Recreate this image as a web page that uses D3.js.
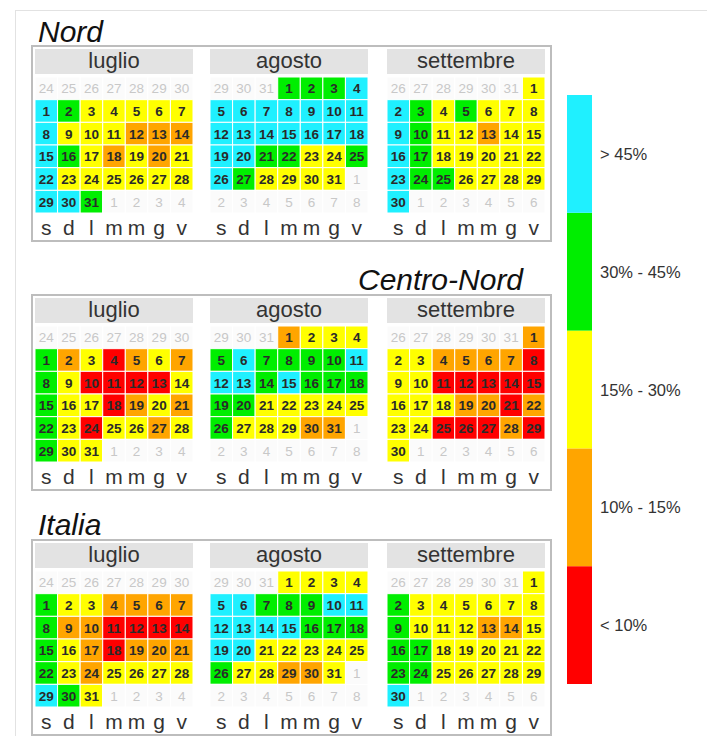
<!DOCTYPE html>
<html>
<head>
<meta charset="utf-8">
<script src="https://cdn.jsdelivr.net/npm/d3@7"></script>
<style>
  body { margin: 0; background: #fff; }
  svg { display: block; font-family: "Liberation Sans", Arial, sans-serif; }
</style>
</head>
<body>
<svg id="chart" width="707" height="736"></svg>
<script>
// calendar data, summer 2017
const year = 2017;
const monthNames = ["luglio", "agosto", "settembre"];
const monthIndex = [6, 7, 8];
const weekdays = ["s", "d", "l", "m", "m", "g", "v"];
const regionNames = ["Nord", "Centro-Nord", "Italia"];
const classLabels = ["< 10%", "10% - 15%", "15% - 30%", "30% - 45%", "> 45%"];
const classColors = ["#ff0000", "#ffa500", "#ffff00", "#00ee00", "#1ff0ff"];

// class of each day: 0 = <10%, 1 = 10-15%, 2 = 15-30%, 3 = 30-45%, 4 = >45%
const nordLuglio = [4,3,2,2,2,2,2, 4,2,2,2,1,1,1, 4,3,2,1,2,1,2, 4,2,2,2,2,2,2, 4,4,3];
const nordAgosto = [3,3,3,4, 4,4,4,4,4,4,4, 4,4,4,4,4,4,4, 4,4,3,3,2,2,3, 4,3,2,2,2,2];
const nordSettembre = [2, 4,3,2,3,2,2,2, 4,3,2,2,1,2,2, 4,3,2,2,2,2,2, 4,3,3,2,2,2,2, 4];

const centroLuglio = [3,1,2,0,1,2,1, 3,2,0,0,0,0,2, 3,2,2,0,1,2,1, 3,2,0,2,2,1,2, 3,2,2];
const centroAgosto = [1,2,2,2, 3,4,3,3,3,3,4, 4,4,3,4,3,3,3, 3,3,2,2,2,2,2, 3,2,2,2,1,1];
const centroSettembre = [1, 2,2,1,1,1,1,0, 2,2,0,0,0,0,0, 2,2,2,1,1,0,1, 2,2,0,0,0,1,0, 2];

const italiaLuglio = [3,2,2,1,1,1,1, 3,1,1,0,0,0,0, 3,2,1,0,1,1,1, 3,2,1,2,2,2,2, 4,3,2];
const italiaAgosto = [2,2,2,2, 4,4,3,3,3,4,4, 4,4,4,4,3,3,3, 4,4,2,2,2,2,2, 3,2,2,1,1,2];
const italiaSettembre = [2, 3,2,2,2,2,2,2, 3,2,2,2,1,1,2, 3,3,2,2,2,2,2, 3,3,2,2,2,2,2, 4];

const regionData = [
    [nordLuglio, nordAgosto, nordSettembre],
    [centroLuglio, centroAgosto, centroSettembre],
    [italiaLuglio, italiaAgosto, italiaSettembre]
];

const svg = d3.select('#chart');

// light outer frame
svg.append('rect')
    .attr('x', 15.5).attr('y', 10.5)
    .attr('width', 700).attr('height', 740)
    .attr('fill', 'none').attr('stroke', '#e2e2e2');

const color = d3.scaleOrdinal().domain(d3.range(5)).range(classColors);

const gridW = 158, gridH = 136;
const monthX = [35, 210, 387];
const gridTop = [77, 326, 571];

const x = d3.scaleBand().domain(d3.range(7)).range([0, gridW]);
const y = d3.scaleBand().domain(d3.range(6)).range([0, gridH]);

const titles = [
    { x: 38, y: 42 },
    { x: 358, y: 290 },
    { x: 38, y: 535 }
];

regionNames.forEach((name, r) => {
    const top = gridTop[r];

    svg.append('text')
        .attr('x', titles[r].x).attr('y', titles[r].y)
        .attr('font-size', 30).attr('font-style', 'italic')
        .attr('fill', '#111')
        .text(name);

    // panel box
    svg.append('rect')
        .attr('x', 32).attr('y', top - 31)
        .attr('width', 519).attr('height', 195)
        .attr('fill', '#fff').attr('stroke', '#bdbdbd').attr('stroke-width', 2);

    monthNames.forEach((mName, m) => {
        const g = svg.append('g').attr('transform', `translate(${monthX[m]},${top})`);
        const values = regionData[r][m];
        const first = new Date(year, monthIndex[m], 1);
        const start = d3.timeSaturday.floor(d3.timeDay.offset(first, -1));
        const days = d3.timeDay.range(start, d3.timeDay.offset(start, 42));
        const inMonth = d => d.getMonth() === monthIndex[m];

        g.append('rect')
            .attr('x', 0).attr('y', -28)
            .attr('width', gridW).attr('height', 25)
            .attr('fill', '#e3e3e3');
        g.append('text')
            .attr('x', gridW / 2).attr('y', -9)
            .attr('text-anchor', 'middle')
            .attr('font-size', 22).attr('fill', '#333')
            .text(mName);

        const cell = g.selectAll('.day')
            .data(days)
            .join('g')
            .attr('class', 'day')
            .attr('transform', (d, i) => `translate(${x((d.getDay() + 1) % 7)},${y(Math.floor(i / 7))})`);

        cell.append('rect')
            .attr('width', x.bandwidth()).attr('height', y.bandwidth())
            .attr('fill', d => inMonth(d) ? color(values[d.getDate() - 1]) : '#fbfbfb')
            .attr('stroke', '#fff').attr('stroke-width', 1);

        cell.append('text')
            .attr('x', x.bandwidth() / 2).attr('y', y.bandwidth() / 2 + 5)
            .attr('text-anchor', 'middle')
            .attr('font-size', 13.5)
            .attr('font-weight', d => inMonth(d) ? 'bold' : 'normal')
            .attr('fill', d => inMonth(d) ? '#2a2a2a' : '#c8c8c8')
            .text(d => d.getDate());

        g.selectAll('.wd')
            .data(weekdays)
            .join('text')
            .attr('class', 'wd')
            .attr('x', (d, i) => x(i) + x.bandwidth() / 2)
            .attr('y', gridH + 22)
            .attr('text-anchor', 'middle')
            .attr('font-size', 21).attr('fill', '#333')
            .text(d => d);
    });
});

// legend
const legendY = d3.scaleBand()
    .domain(d3.range(5).reverse())
    .range([95, 684]);

const legend = svg.append('g');
legend.selectAll('rect')
    .data(d3.range(5))
    .join('rect')
    .attr('x', 567).attr('y', d => legendY(d))
    .attr('width', 25).attr('height', legendY.bandwidth())
    .attr('fill', d => color(d));

legend.selectAll('text')
    .data(d3.range(5))
    .join('text')
    .attr('x', 600).attr('y', d => legendY(d) + legendY.bandwidth() / 2 + 6)
    .attr('font-size', 16.5).attr('fill', '#333')
    .text(d => classLabels[d]);
</script>
</body>
</html>
